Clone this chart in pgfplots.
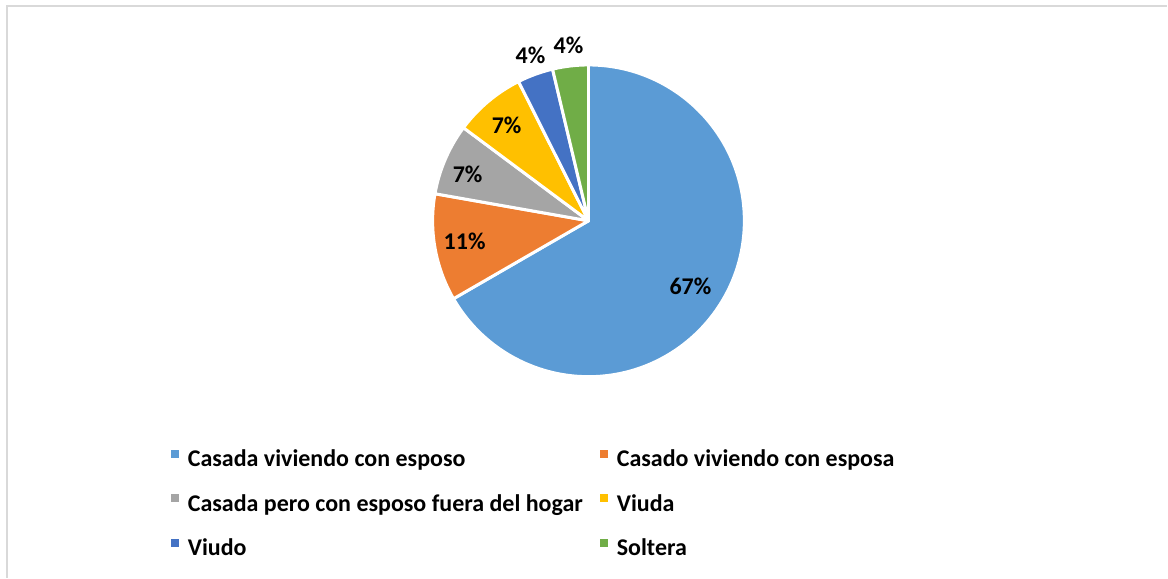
\documentclass[border=0pt]{standalone}
\usepackage{pgfplots}
\usepackage{pgfplotstable}
\pgfplotsset{compat=1.18}
\usepackage{fontspec}
\setmainfont{Carlito}

\definecolor{c1}{HTML}{5B9BD5}
\definecolor{c2}{HTML}{ED7D31}
\definecolor{c3}{HTML}{A5A5A5}
\definecolor{c4}{HTML}{FFC000}
\definecolor{c5}{HTML}{4472C4}
\definecolor{c6}{HTML}{70AD47}

% respondents per category (27 in total)
\pgfplotstableread{
count col
18 c1
3  c2
2  c3
2  c4
1  c5
1  c6
}\piedata

\begin{document}
\begin{tikzpicture}
\begin{axis}[
  scale only axis, width=584pt, height=289pt,
  xmin=0, xmax=1168, ymin=0, ymax=578,
  hide axis, clip=false,
  font=\bfseries\fontsize{12}{14}\selectfont,
  legend columns=2,
  legend cell align=left,
  legend image code/.code={\fill[#1] (0pt,1.5pt) rectangle (4pt,5.5pt);},
  legend style={draw=none, fill=none, inner sep=0pt, outer sep=0pt,
    at={(axis cs:171,128)}, anchor=north west,
    nodes={inner sep=0pt, text height=8.6pt, text depth=2.7pt},
    row sep=11pt,
    /tikz/every odd column/.append style={column sep=4.5pt},
    /tikz/every even column/.append style={column sep=8.5pt}},
]
\path (axis cs:0,0) rectangle (axis cs:1168,578);
% chart area frame (top and left edges)
\draw[black!15, line width=1pt] (axis cs:7.5,0) -- (axis cs:7.5,571.5) -- (axis cs:1168,571.5);

\pgfplotstablegetrowsof{\piedata}
\pgfmathtruncatemacro\nrows{\pgfplotsretval-1}
\def\total{0}
\pgfplotsforeachungrouped \i in {0,...,\nrows}{%
  \pgfplotstablegetelem{\i}{count}\of\piedata
  \pgfmathsetmacro\total{\total+\pgfplotsretval}%
}
\def\cum{0}
\pgfplotsforeachungrouped \i in {0,...,\nrows}{%
  \pgfplotstablegetelem{\i}{count}\of\piedata \let\val\pgfplotsretval
  \pgfplotstablegetelem{\i}{col}\of\piedata \let\col\pgfplotsretval
  \pgfmathsetmacro\sa{90-360*\cum/\total}%
  \pgfmathsetmacro\cum{\cum+\val}%
  \pgfmathsetmacro\ea{90-360*\cum/\total}%
  \pgfmathsetmacro\sx{589+156*cos(\sa)}%
  \pgfmathsetmacro\sy{357+156*sin(\sa)}%
  \edef\cmd{\noexpand\fill[fill=\col, draw=white, line width=1.5pt, line join=round]
    (axis cs:589,357) -- (axis cs:\sx,\sy)
    arc[start angle=\sa, end angle=\ea, radius=78pt] -- cycle;}%
  \cmd
}

% data labels
\node at (axis cs:691,291) {67\%};
\node at (axis cs:465,336) {11\%};
\node at (axis cs:468,404) {7\%};
\node at (axis cs:507,453) {7\%};
\node at (axis cs:531,523) {4\%};
\node at (axis cs:569,533) {4\%};

\addlegendimage{fill=c1, draw=none}
\addlegendentry{Casada viviendo con esposo}
\addlegendimage{fill=c2, draw=none}
\addlegendentry{Casado viviendo con esposa}
\addlegendimage{fill=c3, draw=none}
\addlegendentry{Casada pero con esposo fuera del hogar}
\addlegendimage{fill=c4, draw=none}
\addlegendentry{Viuda}
\addlegendimage{fill=c5, draw=none}
\addlegendentry{Viudo}
\addlegendimage{fill=c6, draw=none}
\addlegendentry{Soltera}
\end{axis}
\end{tikzpicture}
\end{document}
